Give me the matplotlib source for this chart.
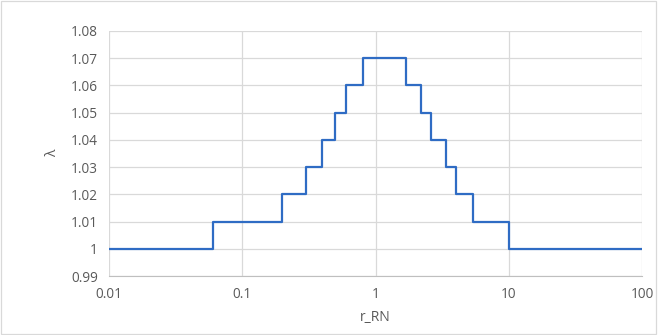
import numpy as np
import matplotlib.pyplot as plt
from matplotlib.ticker import FixedLocator, FixedFormatter

# step edges on r_RN and the lambda value held from each edge to the next
r_edges = [0.01, 0.06, 0.2, 0.3, 0.4, 0.5, 0.6, 0.8, 1.7, 2.2, 2.6, 3.4, 4.0, 5.4, 10, 100]
lam = [1.00, 1.01, 1.02, 1.03, 1.04, 1.05, 1.06, 1.07, 1.06, 1.05, 1.04, 1.03, 1.02, 1.01, 1.00, 1.00]

x_ticks = [0.01, 0.1, 1, 10, 100]
x_labels = ['0.01', '0.1', '1', '10', '100']
y_ticks = [0.99, 1.00, 1.01, 1.02, 1.03, 1.04, 1.05, 1.06, 1.07, 1.08]
y_labels = ['0.99', '1', '1.01', '1.02', '1.03', '1.04', '1.05', '1.06', '1.07', '1.08']

plt.rcParams['font.family'] = ['Open Sans', 'DejaVu Sans']

fig = plt.figure(figsize=(6.58, 3.35), dpi=100)
ax = fig.add_axes([109 / 658, 1 - 276 / 335, (642 - 109) / 658, (276 - 31) / 335])

ax.step(r_edges, lam, where='post', color='#2f6cc4', lw=1.6, zorder=3)

ax.set_xscale('log')
ax.set_xlim(0.01, 100)
ax.set_ylim(0.99, 1.08)
ax.xaxis.set_major_locator(FixedLocator(x_ticks))
ax.xaxis.set_major_formatter(FixedFormatter(x_labels))
ax.xaxis.set_minor_locator(FixedLocator([]))
ax.yaxis.set_major_locator(FixedLocator(y_ticks))
ax.yaxis.set_major_formatter(FixedFormatter(y_labels))

ax.grid(True, color='#d9d9d9', lw=0.9)
ax.set_axisbelow(True)
for side in ['top', 'right', 'left']:
    ax.spines[side].set_visible(False)
ax.spines['bottom'].set_color('#bfbfbf')
ax.tick_params(length=0, labelsize=9.8, colors='#595959', pad=8)

ax.set_xlabel('r_RN', fontsize=10, color='#595959', labelpad=6)
ax.set_ylabel('λ', fontsize=10, color='#595959', labelpad=8)

# light border around the whole chart
fig.patches.append(plt.Rectangle((0.002, 0.003), 0.995, 0.993, transform=fig.transFigure,
                                 fill=False, edgecolor='#d9d9d9', lw=0.9))

fig.savefig('out.png', dpi=100)
